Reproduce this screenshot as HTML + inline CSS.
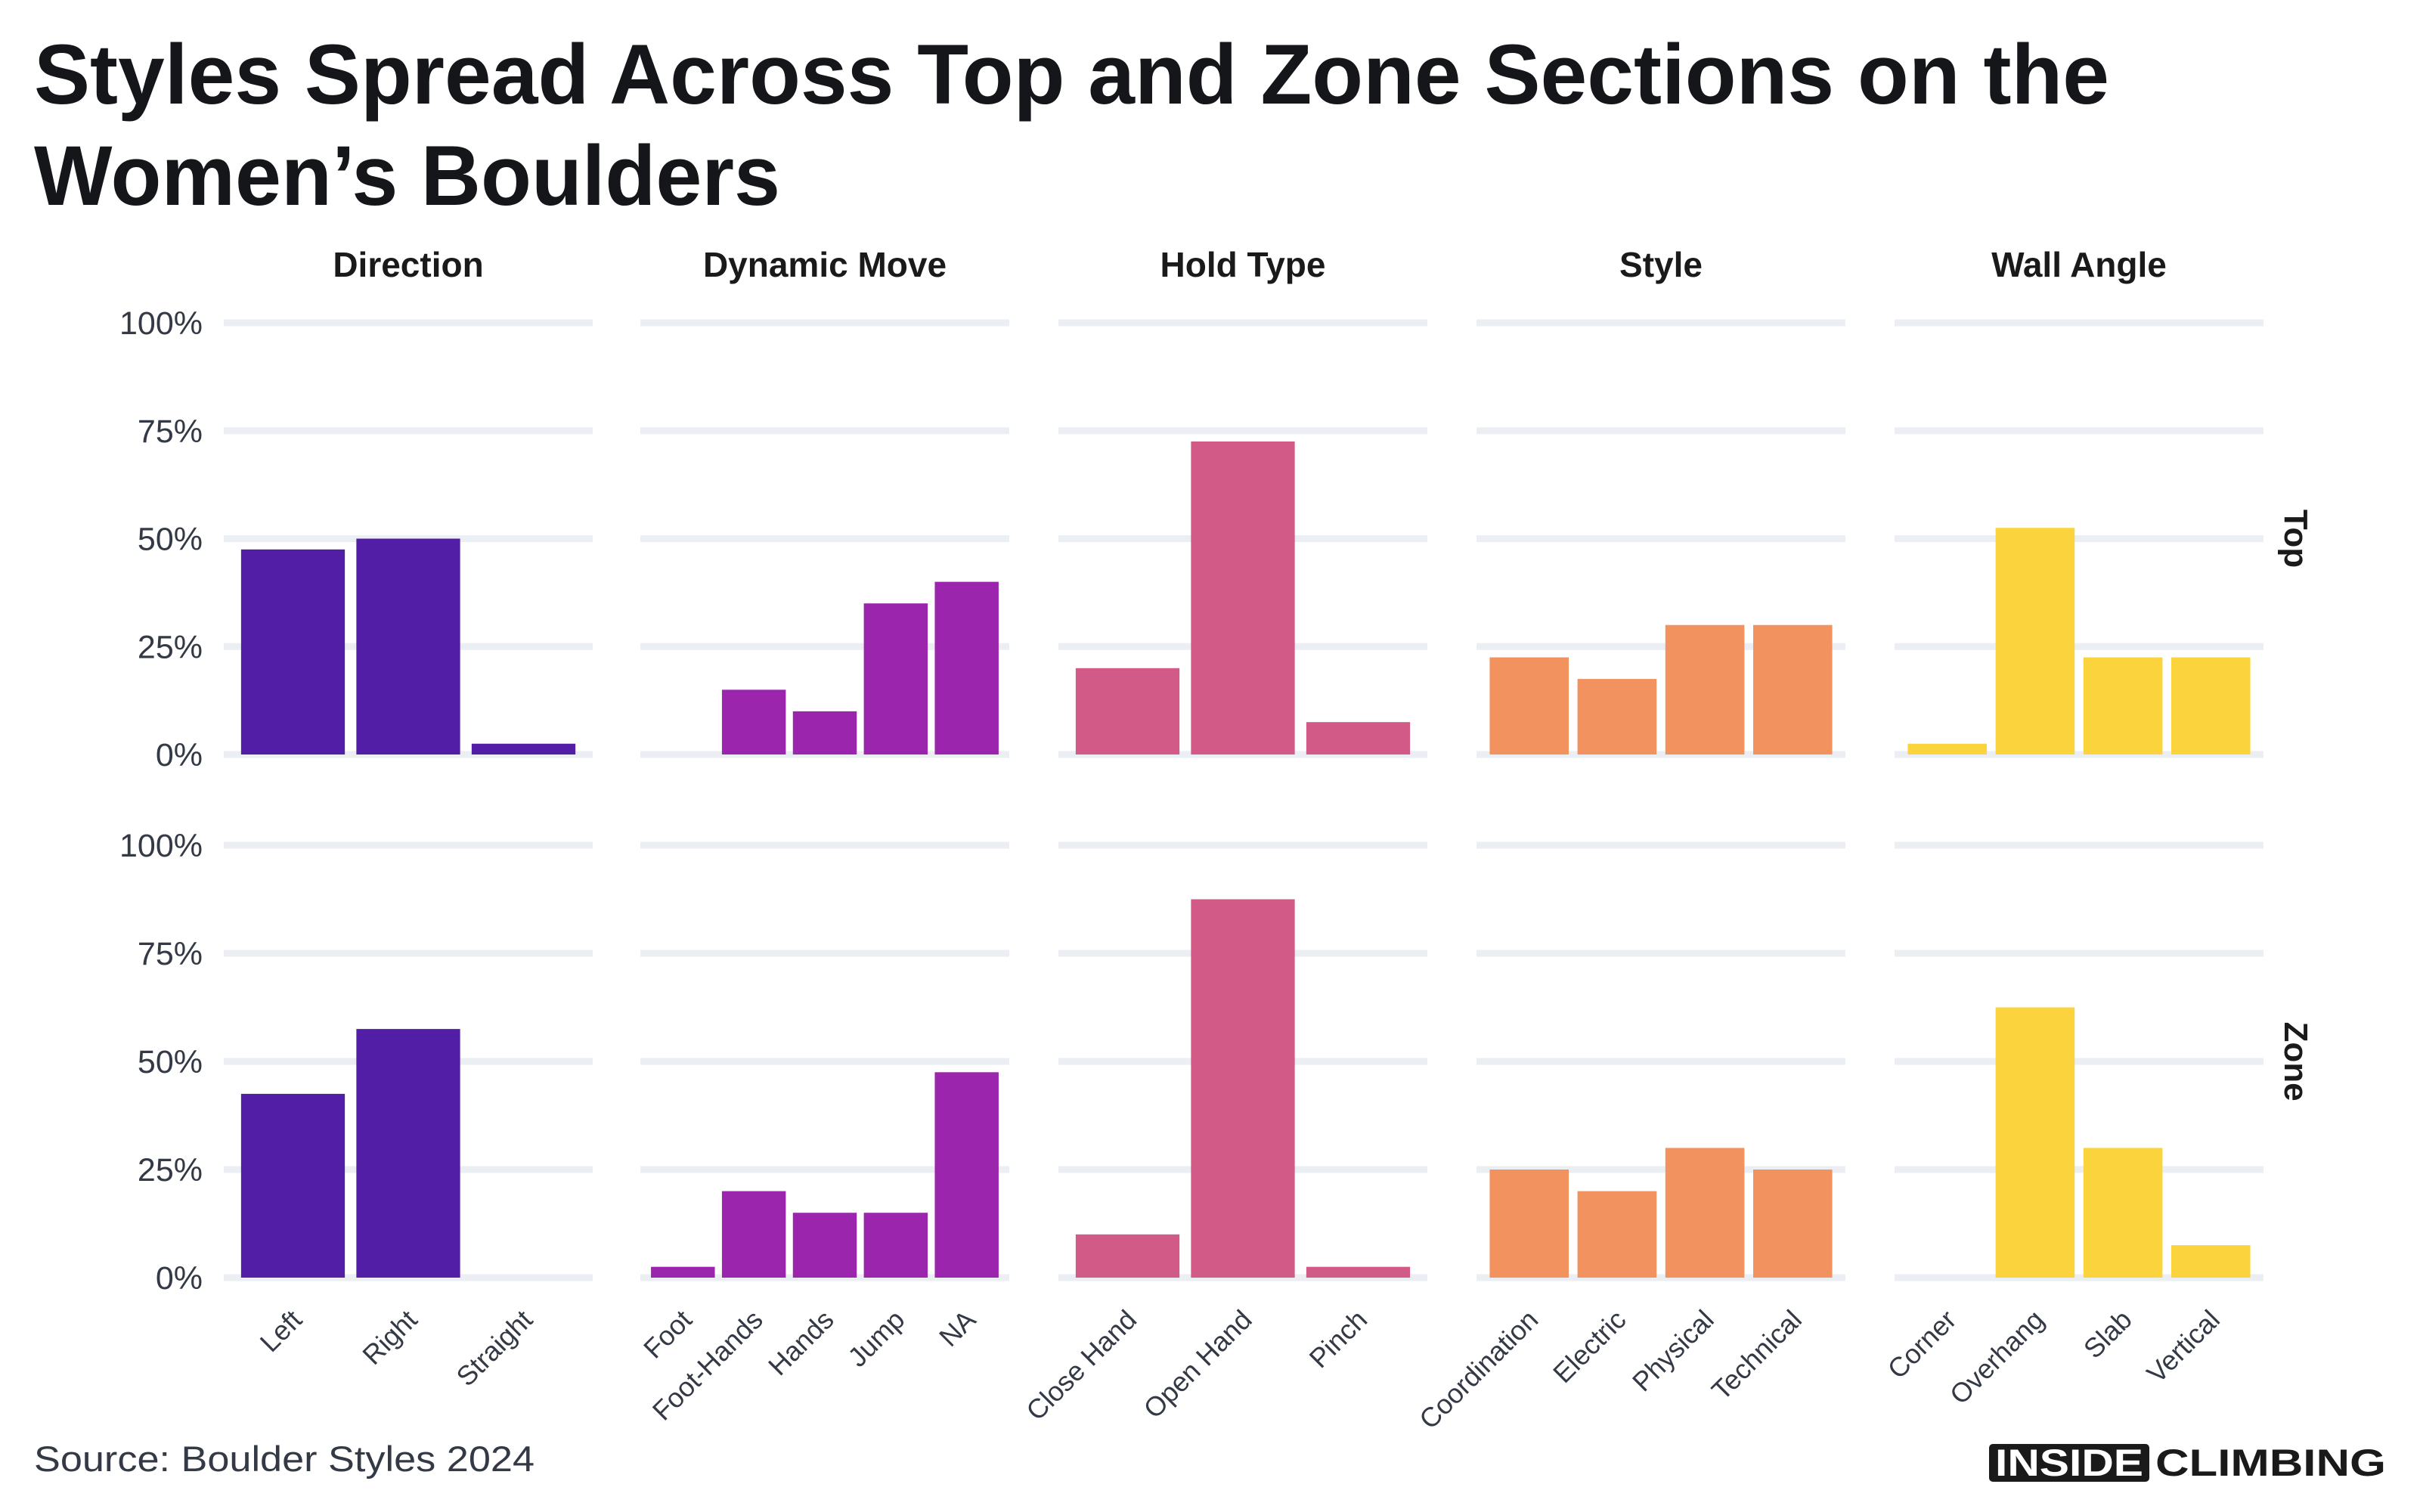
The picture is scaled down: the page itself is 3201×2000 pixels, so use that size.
<!DOCTYPE html>
<html><head><meta charset="utf-8"><style>
html,body{margin:0;padding:0;background:#fff;}
svg{display:block;}
</style></head><body>
<svg id="chart" xmlns="http://www.w3.org/2000/svg" width="3201" height="2000" viewBox="0 0 3201 2000" font-family="Liberation Sans, sans-serif">
<rect width="3201" height="2000" fill="#fff"/>
<text x="45" y="137" font-size="112" font-weight="bold" fill="#14161a" textLength="2745" lengthAdjust="spacingAndGlyphs">Styles Spread Across Top and Zone Sections on the</text>
<text x="45" y="271" font-size="112" font-weight="bold" fill="#14161a" textLength="987" lengthAdjust="spacingAndGlyphs">Women’s Boulders</text>
<text x="45" y="1946" font-size="47" fill="#333a45" textLength="662" lengthAdjust="spacingAndGlyphs">Source: Boulder Styles 2024</text>
<g>
<rect x="2631" y="1910" width="212" height="50" rx="5" fill="#1a1a1a"/>
<text x="2737" y="1952" font-size="50" font-weight="bold" fill="#fff" text-anchor="middle" textLength="196" lengthAdjust="spacingAndGlyphs">INSIDE</text>
<text x="2851" y="1952" font-size="50" font-weight="bold" fill="#1a1a1a" textLength="305" lengthAdjust="spacingAndGlyphs">CLIMBING</text>
</g>
<g id="plots"></g>
</svg>
<script>
const facets = ["Direction","Dynamic Move","Hold Type","Style","Wall Angle"];
const rowsLabels = ["Top","Zone"];
const catsDirection = ["Left","Right","Straight"];
const catsDynamic = ["Foot","Foot-Hands","Hands","Jump","NA"];
const catsHold = ["Close Hand","Open Hand","Pinch"];
const catsStyle = ["Coordination","Electric","Physical","Technical"];
const catsWall = ["Corner","Overhang","Slab","Vertical"];
const topDirection = [47.5,50,2.5];
const zoneDirection = [42.5,57.5,0];
const topDynamic = [0,15,10,35,40];
const zoneDynamic = [2.5,20,15,15,47.5];
const topHold = [20,72.5,7.5];
const zoneHold = [10,87.5,2.5];
const topStyle = [22.5,17.5,30,30];
const zoneStyle = [25,20,30,25];
const topWall = [2.5,52.5,22.5,22.5];
const zoneWall = [0,62.5,30,7.5];
const yTicks = [0,25,50,75,100];
const yTickLabels = ["0%","25%","50%","75%","100%"];

const NS="http://www.w3.org/2000/svg";
const g=document.getElementById('plots');
const cats=[catsDirection,catsDynamic,catsHold,catsStyle,catsWall];
const vals=[[topDirection,zoneDirection],[topDynamic,zoneDynamic],[topHold,zoneHold],[topStyle,zoneStyle],[topWall,zoneWall]];
const colors=["#521ea6","#9b25ad","#d15a86","#f2935f","#fbd33c"];
const panelX=[296,847,1400,1953,2506];
const panelW=488;
const rowTop=[427,1118];
const rowBot=[998,1690];
function mk(t,a){const e=document.createElementNS(NS,t);for(const k in a)e.setAttribute(k,a[k]);return e;}
function yScale(v,r){return rowBot[r]-(v/100)*(rowBot[r]-rowTop[r]);}
function xScale(i,n,p){const u=panelW/(n+0.2);return panelX[p]+(i+0.6)*u;}
function bandW(n){return 0.9*panelW/(n+0.2);}

facets.forEach((f,p)=>{
  const t=mk('text',{x:panelX[p]+panelW/2,y:366,'font-size':46,'font-weight':'bold',fill:'#1a1a1a','text-anchor':'middle'});
  
  
  t.textContent=f;g.appendChild(t);
});
rowsLabels.forEach((r,ri)=>{
  const cy=(rowTop[ri]+rowBot[ri])/2;
  const t=mk('text',{x:3022,y:cy,'font-size':44,'font-weight':'bold',fill:'#1a1a1a','text-anchor':'middle',transform:'rotate(90 3022 '+cy+')'});
  
  
  t.textContent=r;g.appendChild(t);
  yTicks.forEach((v,k)=>{
    const y=yScale(v,ri);
    const lab=mk('text',{x:268,y:y+15,'font-size':43,fill:'#333a45','text-anchor':'end'});
    
    
    lab.textContent=yTickLabels[k];g.appendChild(lab);
    panelX.forEach(px=>{
      const l=mk('rect',{x:px,y:y-4.5,width:panelW,height:9,fill:'#ebeef2'});
      
      
      g.appendChild(l);
    });
  });
});
vals.forEach((pair,p)=>{
  const n=cats[p].length,bw=bandW(n);
  pair.forEach((arr,ri)=>{
    arr.forEach((v,i)=>{
      if(v<=0)return;
      const cx=xScale(i,n,p),y=yScale(v,ri);
      const b=mk('rect',{x:cx-bw/2,y:y,width:bw,height:rowBot[ri]-y,fill:colors[p]});
      
      
      g.appendChild(b);
    });
  });
  cats[p].forEach((c,i)=>{
    const cx=xScale(i,n,p)+14,y=1748;
    const t=mk('text',{x:cx,y:y,'font-size':36,fill:'#333a45','text-anchor':'end',transform:'rotate(-45 '+cx+' '+y+')'});
    
    
    t.textContent=c;g.appendChild(t);
  });
});
</script>
</body></html>
